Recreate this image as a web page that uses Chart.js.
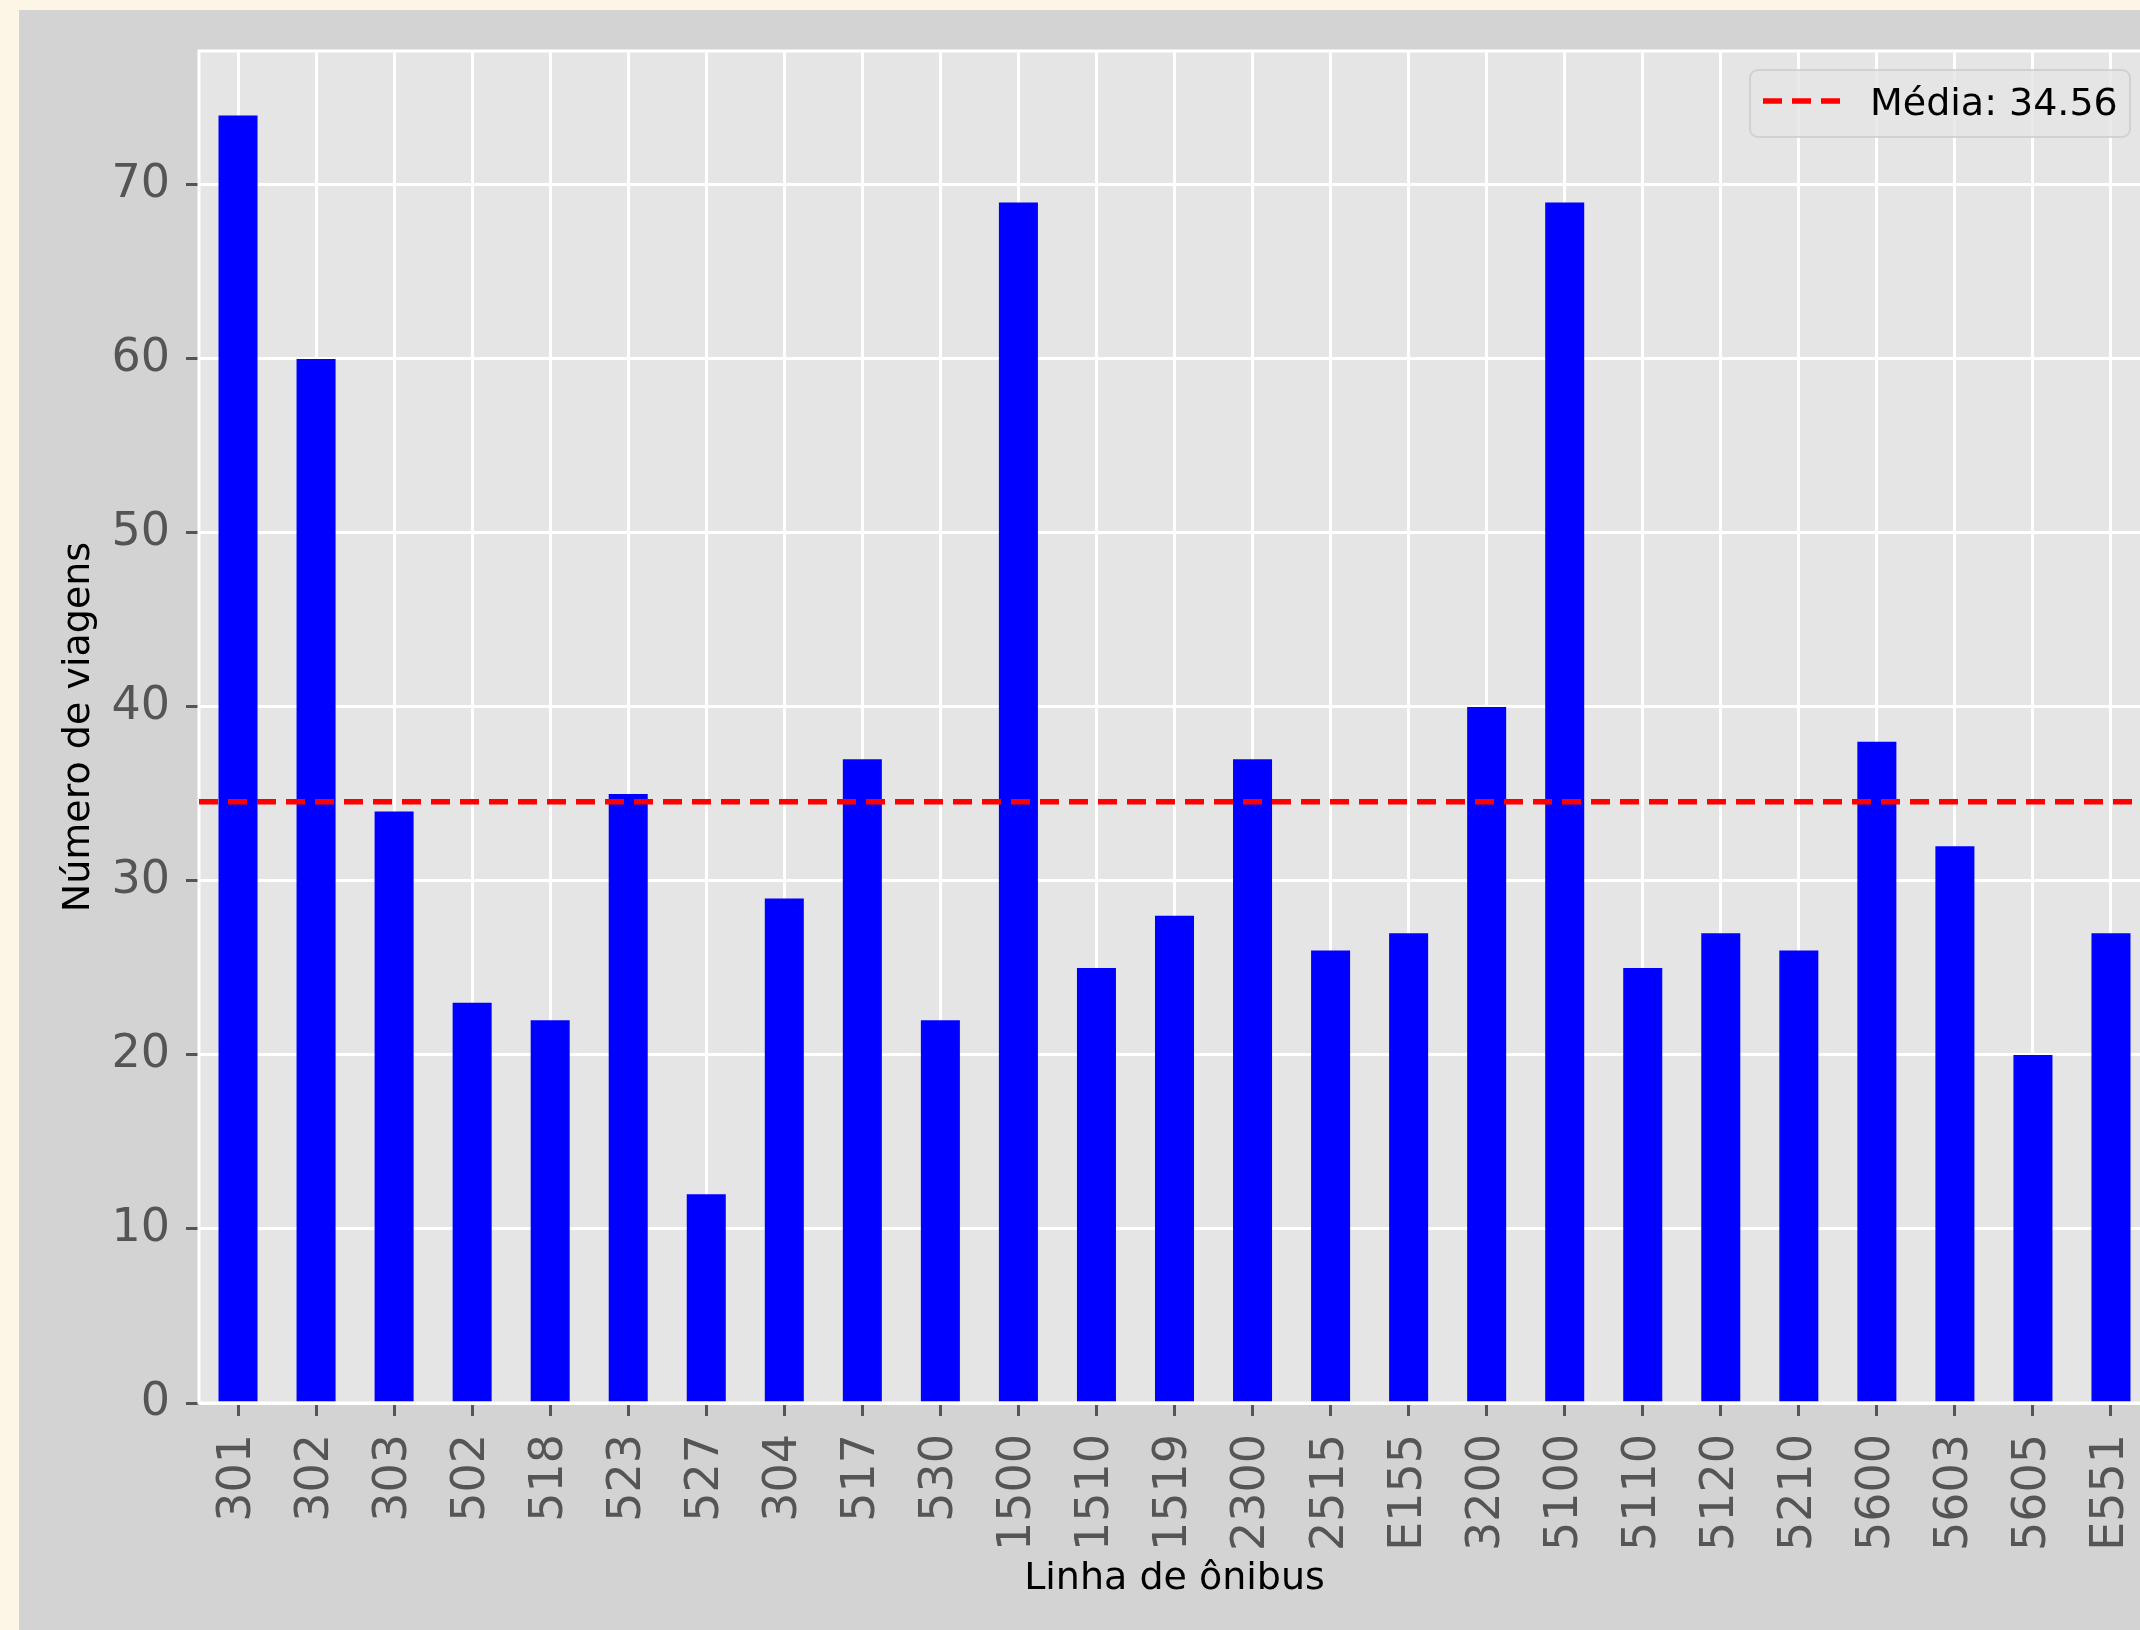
<!DOCTYPE html>
<html>
<head>
<meta charset="utf-8">
<script src="https://cdn.jsdelivr.net/npm/chart.js@4.4.1/dist/chart.umd.min.js"></script>
<style>
    html, body { margin: 0; padding: 0; background: #fdf5e6; overflow: hidden; width: 2140px; height: 1630px; }
    #wrap { position: absolute; left: 19px; top: 10px; width: 2150px; height: 1620px; background: #d3d3d3; }
</style>
</head>
<body>
<div id="wrap"><canvas id="myChart" width="2150" height="1620"></canvas></div>
<script>
const linhas = ['301', '302', '303', '502', '518', '523', '527', '304', '517', '530',
    '1500', '1510', '1519', '2300', '2515', 'E155', '3200', '5100', '5110', '5120',
    '5210', '5600', '5603', '5605', 'E551'];
const viagens = [74, 60, 34, 23, 22, 35, 12, 29, 37, 22,
    69, 25, 28, 37, 26, 27, 40, 69, 25, 27,
    26, 38, 32, 20, 27];

const media = viagens.reduce((s, v) => s + v, 0) / viagens.length;
const rotuloMedia = `Média: ${media.toFixed(2)}`;

const fonte = "'DejaVu Sans', sans-serif";

// fundo do eixo, moldura branca, linha da média e legenda
const plotPlugin = {
    id: 'plotExtras',
    beforeDraw(chart) {
        const { ctx, chartArea: a } = chart;
        ctx.save();
        ctx.fillStyle = '#e5e5e5';
        ctx.fillRect(a.left, a.top, a.right - a.left, a.bottom - a.top);
        ctx.restore();
    },
    afterDatasetsDraw(chart) {
        const { ctx, chartArea: a, scales } = chart;
        ctx.save();
        ctx.strokeStyle = '#ffffff';
        ctx.lineWidth = 3;
        ctx.strokeRect(a.left, a.top, a.right - a.left, a.bottom - a.top);

        const y = scales.y.getPixelForValue(media);
        ctx.strokeStyle = '#ff0000';
        ctx.lineWidth = 5.5;
        ctx.setLineDash([19, 10]);
        ctx.beginPath();
        ctx.moveTo(a.left, y);
        ctx.lineTo(a.right, y);
        ctx.stroke();
        ctx.restore();
    },
    afterDraw(chart) {
        const { ctx, chartArea: a } = chart;
        const w = 380, h = 67;
        const x0 = a.right - 20 - w, y0 = a.top + 19;
        ctx.save();
        ctx.beginPath();
        ctx.roundRect(x0, y0, w, h, 8);
        ctx.fillStyle = 'rgba(229,229,229,0.8)';
        ctx.fill();
        ctx.strokeStyle = 'rgba(204,204,204,0.8)';
        ctx.lineWidth = 2;
        ctx.stroke();

        ctx.strokeStyle = '#ff0000';
        ctx.lineWidth = 5.5;
        ctx.setLineDash([19, 10]);
        ctx.beginPath();
        ctx.moveTo(x0 + 13, y0 + 31);
        ctx.lineTo(x0 + 90, y0 + 31);
        ctx.stroke();

        ctx.fillStyle = '#000000';
        ctx.font = '38px ' + fonte;
        ctx.textBaseline = 'alphabetic';
        ctx.fillText(rotuloMedia, x0 + 120, y0 + 45);
        ctx.restore();
    }
};

const config = {
    type: 'bar',
    data: {
        labels: linhas,
        datasets: [{
            label: 'Número de viagens',
            data: viagens,
            backgroundColor: '#0000ff',
            borderWidth: 0,
            categoryPercentage: 1.0,
            barPercentage: 0.5
        }]
    },
    options: {
        responsive: false,
        animation: false,
        layout: { padding: { left: 0, top: 41, right: 19, bottom: 0 } },
        plugins: {
            legend: { display: false },
            tooltip: { enabled: false }
        },
        scales: {
            x: {
                grid: {
                    offset: false,
                    color: '#ffffff',
                    lineWidth: 3,
                    tickColor: '#555555',
                    tickLength: 13,
                    tickWidth: 3
                },
                border: { display: false },
                ticks: {
                    autoSkip: false,
                    minRotation: 90,
                    maxRotation: 90,
                    padding: 18,
                    color: '#555555',
                    font: { family: fonte, size: 46 }
                },
                title: {
                    display: true,
                    text: 'Linha de ônibus',
                    color: '#000000',
                    padding: { top: 0, bottom: 28 },
                    font: { family: fonte, size: 38 }
                },
                afterFit(scale) {
                    scale.height = 227;
                    scale.paddingLeft = 0;
                    scale.paddingRight = 0;
                }
            },
            y: {
                min: 0,
                max: Math.max(...viagens) * 1.05,
                grid: {
                    color: '#ffffff',
                    lineWidth: 3,
                    tickColor: '#555555',
                    tickLength: 13,
                    tickWidth: 3
                },
                border: { display: false },
                ticks: {
                    stepSize: 10,
                    includeBounds: false,
                    padding: 16,
                    color: '#555555',
                    font: { family: fonte, size: 46 }
                },
                title: {
                    display: true,
                    text: 'Número de viagens',
                    color: '#000000',
                    padding: { top: 37, bottom: 0 },
                    font: { family: fonte, size: 38 }
                },
                afterFit(scale) {
                    scale.width = 180;
                    scale.paddingTop = 0;
                    scale.paddingBottom = 0;
                }
            }
        }
    },
    plugins: [plotPlugin]
};

new Chart(document.getElementById('myChart').getContext('2d'), config);
</script>
</body>
</html>
